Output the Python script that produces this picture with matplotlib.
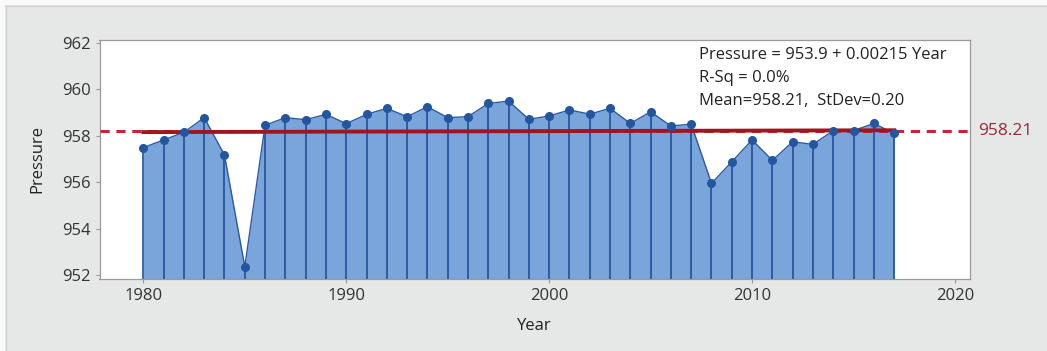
import matplotlib
matplotlib.use("Agg")
import matplotlib.pyplot as plt
import matplotlib.transforms as mtransforms
from matplotlib.patches import Rectangle

# Annual mean pressure series
years = list(range(1980, 2018))
pressure = [957.49, 957.82, 958.15, 958.78, 957.17, 952.37, 958.45, 958.78,
            958.69, 958.92, 958.52, 958.92, 959.18, 958.82, 959.25, 958.78,
            958.82, 959.39, 959.49, 958.71, 958.85, 959.11, 958.93, 959.18,
            958.53, 959.03, 958.42, 958.50, 955.95, 956.88, 957.82, 956.94,
            957.74, 957.63, 958.22, 958.22, 958.53, 958.10]

# Fitted trend and summary statistics
intercept = 953.9
slope = 0.00215
mean_value = 958.21
stats_lines = ["Pressure = 953.9 + 0.00215 Year",
               "R-Sq = 0.0%",
               "Mean=958.21,  StDev=0.20"]

x_ticks = [1980, 1990, 2000, 2010, 2020]
y_ticks = [952, 954, 956, 958, 960, 962]

plt.rcParams['font.family'] = ['Open Sans', 'DejaVu Sans']

bg = '#e6e7e7'
fill_col = '#7aa5da'
dark_blue = '#1f4f9a'

fig = plt.figure(figsize=(10.47, 3.51), dpi=100, facecolor=bg)
W, H = 1047, 351

# Light frame strips along the top and left edges
fig.patches.append(Rectangle((0, 1 - 5 / H), 1, 5 / H, transform=fig.transFigure,
                             facecolor='#fafafa', edgecolor='none', zorder=0))
fig.patches.append(Rectangle((0, 0), 5 / W, 1, transform=fig.transFigure,
                             facecolor='#fafafa', edgecolor='none', zorder=0))
fig.add_artist(plt.Line2D([5 / W, 1], [1 - 5.5 / H, 1 - 5.5 / H], transform=fig.transFigure,
                          color='#d2d4d4', linewidth=1))
fig.add_artist(plt.Line2D([5.5 / W, 5.5 / W], [0, 1 - 5.5 / H], transform=fig.transFigure,
                          color='#d2d4d4', linewidth=1))

ax = fig.add_axes([99.5 / W, 1 - 279 / H, (970 - 99.5) / W, (279 - 39.5) / H])
ax.set_facecolor('white')

ymin, ymax = 951.84, 962.14
ax.set_xlim(1977.84, 2020.74)
ax.set_ylim(ymin, ymax)

ax.fill_between(years, pressure, ymin, color=fill_col, zorder=1, linewidth=0)
ax.vlines(years, ymin, pressure, color=dark_blue, linewidth=1.2, zorder=2)
ax.plot(years, pressure, color='#2a5aa5', linewidth=1.0, zorder=3)

# Mean reference line extending past the plot edge
trans = mtransforms.blended_transform_factory(ax.transAxes, ax.transData)
ax.plot([0, 1.003], [mean_value, mean_value], transform=trans, clip_on=False,
        color='#cc2233', linewidth=2.2, dashes=(3, 2.2), zorder=4)
ax.text(1.009, mean_value, f"{mean_value:.2f}", transform=trans,
        va='center', ha='left', color='#9a2a35', fontsize=12.5)

# Linear trend over the observed range
trend_x = [years[0], years[-1]]
trend_y = [intercept + slope * x for x in trend_x]
ax.plot(trend_x, trend_y, color='#a0161e', linewidth=2.8, zorder=5)

ax.plot(years, pressure, linestyle='none', marker='o', markersize=5.5,
        color='#2456a0', zorder=6)

for i, line in enumerate(stats_lines):
    ax.text(699 / W, 1 - (55 + 23 * i) / H, line, transform=fig.transFigure,
            va='center', ha='left', fontsize=12, color='#222222')

ax.set_xticks(x_ticks)
ax.set_yticks(y_ticks)
ax.tick_params(axis='both', labelsize=12, colors='#9a9a9a', labelcolor='#333333',
               length=3, width=0.8, direction='out')
for s in ax.spines.values():
    s.set_color('#9a9a9a')
    s.set_linewidth(0.9)

ax.set_xlabel('Year', fontsize=12, color='#222222', labelpad=10)
ax.set_ylabel('Pressure', fontsize=12, color='#222222', labelpad=12)

fig.savefig('out.png', dpi=100, facecolor=bg)
